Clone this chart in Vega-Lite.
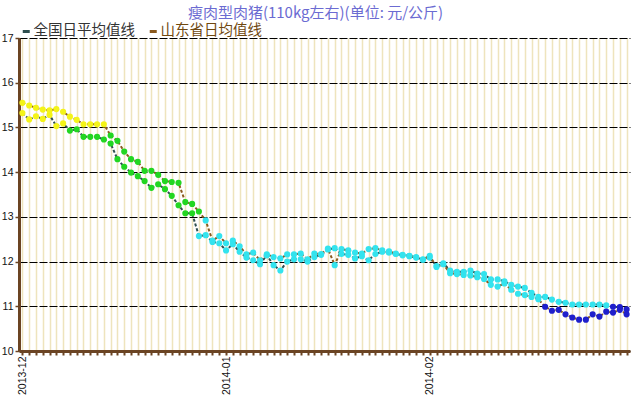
{
  "$schema": "https://vega.github.io/schema/vega-lite/v6.json",
  "width": 611,
  "height": 313,
  "autosize": "none",
  "padding": {"left": 19, "top": 38, "right": 3, "bottom": 48},
  "background": "white",
  "title": {"text": "瘦肉型肉猪(110kg左右)(单位: 元/公斤)", "font": "Noto Sans CJK SC", "fontSize": 15, "fontWeight": "normal", "color": "#6b6bd2", "anchor": "middle", "dx": -9, "offset": 3},
  "data": {"values": [
    {"d": "2013-12-02", "全国日平均值线": 15.32, "山东省日均值线": 15.55},
    {"d": "2013-12-03", "全国日平均值线": 15.18, "山东省日均值线": 15.49},
    {"d": "2013-12-04", "全国日平均值线": 15.25, "山东省日均值线": 15.44},
    {"d": "2013-12-05", "全国日平均值线": 15.19, "山东省日均值线": 15.40},
    {"d": "2013-12-06", "全国日平均值线": 15.28, "山东省日均值线": 15.38},
    {"d": "2013-12-07", "全国日平均值线": 15.03, "山东省日均值线": 15.41},
    {"d": "2013-12-08", "全国日平均值线": 15.09, "山东省日均值线": 15.35},
    {"d": "2013-12-09", "全国日平均值线": 14.93, "山东省日均值线": 15.24},
    {"d": "2013-12-10", "全国日平均值线": 14.96, "山东省日均值线": 15.17},
    {"d": "2013-12-11", "全国日平均值线": 14.79, "山东省日均值线": 15.07},
    {"d": "2013-12-12", "全国日平均值线": 14.79, "山东省日均值线": 15.07},
    {"d": "2013-12-13", "全国日平均值线": 14.79, "山东省日均值线": 15.07},
    {"d": "2013-12-14", "全国日平均值线": 14.73, "山东省日均值线": 15.07},
    {"d": "2013-12-15", "全国日平均值线": 14.64, "山东省日均值线": 14.82},
    {"d": "2013-12-16", "全国日平均值线": 14.29, "山东省日均值线": 14.70},
    {"d": "2013-12-17", "全国日平均值线": 14.12, "山东省日均值线": 14.46},
    {"d": "2013-12-18", "全国日平均值线": 13.99, "山东省日均值线": 14.29},
    {"d": "2013-12-19", "全国日平均值线": 13.91, "山东省日均值线": 14.23},
    {"d": "2013-12-20", "全国日平均值线": 13.80, "山东省日均值线": 14.03},
    {"d": "2013-12-21", "全国日平均值线": 13.65, "山东省日均值线": 14.03},
    {"d": "2013-12-22", "全国日平均值线": 13.73, "山东省日均值线": 13.94},
    {"d": "2013-12-23", "全国日平均值线": 13.62, "山东省日均值线": 13.80},
    {"d": "2013-12-24", "全国日平均值线": 13.47, "山东省日均值线": 13.78},
    {"d": "2013-12-25", "全国日平均值线": 13.26, "山东省日均值线": 13.76},
    {"d": "2013-12-26", "全国日平均值线": 13.08, "山东省日均值线": 13.33},
    {"d": "2013-12-27", "全国日平均值线": 13.08, "山东省日均值线": 13.29},
    {"d": "2013-12-28", "全国日平均值线": 12.57, "山东省日均值线": 13.12},
    {"d": "2013-12-29", "全国日平均值线": 12.59, "山东省日均值线": 12.92},
    {"d": "2013-12-30", "全国日平均值线": 12.44, "山东省日均值线": 12.47},
    {"d": "2013-12-31", "全国日平均值线": 12.41, "山东省日均值线": 12.57},
    {"d": "2014-01-01", "全国日平均值线": 12.25, "山东省日均值线": 12.41},
    {"d": "2014-01-02", "全国日平均值线": 12.39, "山东省日均值线": 12.47},
    {"d": "2014-01-03", "全国日平均值线": 12.22, "山东省日均值线": 12.34},
    {"d": "2014-01-04", "全国日平均值线": 12.09, "山东省日均值线": 12.16},
    {"d": "2014-01-05", "全国日平均值线": 12.03, "山东省日均值线": 12.20},
    {"d": "2014-01-06", "全国日平均值线": 11.94, "山东省日均值线": 12.03},
    {"d": "2014-01-07", "全国日平均值线": 12.14, "山东省日均值线": 12.16},
    {"d": "2014-01-08", "全国日平均值线": 11.92, "山东省日均值线": 12.10},
    {"d": "2014-01-09", "全国日平均值线": 11.80, "山东省日均值线": 12.07},
    {"d": "2014-01-10", "全国日平均值线": 12.00, "山东省日均值线": 12.16},
    {"d": "2014-01-11", "全国日平均值线": 12.05, "山东省日均值线": 12.16},
    {"d": "2014-01-12", "全国日平均值线": 12.05, "山东省日均值线": 12.18},
    {"d": "2014-01-13", "全国日平均值线": 12.00, "山东省日均值线": 12.05},
    {"d": "2014-01-14", "全国日平均值线": 12.10, "山东省日均值线": 12.18},
    {"d": "2014-01-15", "全国日平均值线": 12.15, "山东省日均值线": 12.17},
    {"d": "2014-01-16", "全国日平均值线": 12.27, "山东省日均值线": 12.29},
    {"d": "2014-01-17", "全国日平均值线": 12.30, "山东省日均值线": 11.92},
    {"d": "2014-01-18", "全国日平均值线": 12.17, "山东省日均值线": 12.28},
    {"d": "2014-01-19", "全国日平均值线": 12.15, "山东省日均值线": 12.25},
    {"d": "2014-01-20", "全国日平均值线": 12.07, "山东省日均值线": 12.20},
    {"d": "2014-01-21", "全国日平均值线": 12.12, "山东省日均值线": 12.18},
    {"d": "2014-01-22", "全国日平均值线": 12.03, "山东省日均值线": 12.28},
    {"d": "2014-01-23", "全国日平均值线": 12.17, "山东省日均值线": 12.30},
    {"d": "2014-01-24", "全国日平均值线": 12.22, "山东省日均值线": 12.25},
    {"d": "2014-01-25", "全国日平均值线": 12.20, "山东省日均值线": 12.23},
    {"d": "2014-01-26", "全国日平均值线": 12.17, "山东省日均值线": 12.18},
    {"d": "2014-01-27", "全国日平均值线": 12.14, "山东省日均值线": 12.15},
    {"d": "2014-01-28", "全国日平均值线": 12.12, "山东省日均值线": 12.13},
    {"d": "2014-01-29", "全国日平均值线": 12.09, "山东省日均值线": 12.10},
    {"d": "2014-01-30", "全国日平均值线": 12.04, "山东省日均值线": 12.05},
    {"d": "2014-02-01", "全国日平均值线": 12.09, "山东省日均值线": 12.13},
    {"d": "2014-02-02", "全国日平均值线": 11.90, "山东省日均值线": 11.88},
    {"d": "2014-02-03", "全国日平均值线": 11.96, "山东省日均值线": 11.94},
    {"d": "2014-02-04", "全国日平均值线": 11.80, "山东省日均值线": 11.74},
    {"d": "2014-02-05", "全国日平均值线": 11.77, "山东省日均值线": 11.72},
    {"d": "2014-02-06", "全国日平均值线": 11.77, "山东省日均值线": 11.70},
    {"d": "2014-02-07", "全国日平均值线": 11.80, "山东省日均值线": 11.69},
    {"d": "2014-02-08", "全国日平均值线": 11.73, "山东省日均值线": 11.65},
    {"d": "2014-02-09", "全国日平均值线": 11.72, "山东省日均值线": 11.61},
    {"d": "2014-02-10", "全国日平均值线": 11.60, "山东省日均值线": 11.48},
    {"d": "2014-02-11", "全国日平均值线": 11.60, "山东省日均值线": 11.44},
    {"d": "2014-02-12", "全国日平均值线": 11.56, "山东省日均值线": 11.51},
    {"d": "2014-02-13", "全国日平均值线": 11.48, "山东省日均值线": 11.37},
    {"d": "2014-02-14", "全国日平均值线": 11.44, "山东省日均值线": 11.28},
    {"d": "2014-02-15", "全国日平均值线": 11.41, "山东省日均值线": 11.25},
    {"d": "2014-02-16", "全国日平均值线": 11.30, "山东省日均值线": 11.21},
    {"d": "2014-02-17", "全国日平均值线": 11.21, "山东省日均值线": 11.16},
    {"d": "2014-02-18", "全国日平均值线": 11.21, "山东省日均值线": 10.99},
    {"d": "2014-02-19", "全国日平均值线": 11.15, "山东省日均值线": 10.90},
    {"d": "2014-02-20", "全国日平均值线": 11.10, "山东省日均值线": 10.92},
    {"d": "2014-02-21", "全国日平均值线": 11.08, "山东省日均值线": 10.82},
    {"d": "2014-02-22", "全国日平均值线": 11.04, "山东省日均值线": 10.75},
    {"d": "2014-02-23", "全国日平均值线": 11.04, "山东省日均值线": 10.70},
    {"d": "2014-02-24", "全国日平均值线": 11.04, "山东省日均值线": 10.70},
    {"d": "2014-02-25", "全国日平均值线": 11.04, "山东省日均值线": 10.82},
    {"d": "2014-02-26", "全国日平均值线": 11.04, "山东省日均值线": 10.77},
    {"d": "2014-02-27", "全国日平均值线": 11.02, "山东省日均值线": 10.88},
    {"d": "2014-02-28", "全国日平均值线": 10.99, "山东省日均值线": 10.86},
    {"d": "2014-03-01", "全国日平均值线": 10.98, "山东省日均值线": 10.92},
    {"d": "2014-03-02", "全国日平均值线": 10.93, "山东省日均值线": 10.82}
  ]},
  "transform": [{"fold": ["全国日平均值线", "山东省日均值线"], "as": ["series", "price"]}],
  "encoding": {
    "x": {
      "field": "d", "type": "ordinal",
      "scale": {"type": "point", "padding": 0.5},
      "axis": {
        "title": null, "grid": true, "gridColor": "#eee4bd", "gridWidth": 1.5,
        "domainColor": "#6b4423", "domainWidth": 3,
        "tickColor": "#6b4423", "tickSize": 4, "tickWidth": 2,
        "labelAngle": 270, "labelFont": "Liberation Sans", "labelFontSize": 10.5, "labelColor": "#111111",
        "labelOverlap": false, "labelPadding": 1,
        "labelExpr": "indexof(['2013-12-02','2014-01-01','2014-02-01'], datum.value) >= 0 ? slice(datum.value, 0, 7) : ''"
      }
    },
    "y": {
      "field": "price", "type": "quantitative",
      "scale": {"domain": [10, 17], "nice": false, "zero": false},
      "axis": {
        "title": null, "values": [10, 11, 12, 13, 14, 15, 16, 17],
        "grid": true, "gridColor": "#000000", "gridDash": [8, 2], "gridWidth": 1,
        "domainColor": "#6b4423", "domainWidth": 3,
        "tickColor": "#6b4423", "tickSize": 4, "tickWidth": 1.5,
        "labelFont": "Liberation Sans", "labelFontSize": 10.5, "labelColor": "#111111", "labelPadding": 2
      }
    }
  },
  "layer": [
    {
      "mark": {"type": "line", "strokeWidth": 2, "strokeDash": [3, 2]},
      "encoding": {
        "color": {
          "field": "series", "type": "nominal",
          "scale": {"domain": ["全国日平均值线", "山东省日均值线"], "range": ["#2f4f4f", "#8b5a1e"]},
          "legend": {
            "title": null, "orient": "none", "legendX": 0, "legendY": -14, "direction": "horizontal",
            "symbolType": "stroke", "symbolSize": 49, "symbolStrokeWidth": 3, "symbolDash": [1, 0],
            "labelFont": "Noto Sans CJK SC", "labelFontSize": 14.5, "labelOffset": 0, "columnPadding": 8,
            "padding": 0, "labelLimit": 300,
            "encode": {"labels": {"update": {"fill": {"signal": "datum.value == '山东省日均值线' ? '#70480f' : '#333333'"}}}}
          }
        }
      }
    },
    {
      "mark": {"type": "point", "filled": true, "shape": "circle", "size": 38, "opacity": 1, "strokeWidth": 0},
      "encoding": {
        "color": {
          "field": "price", "type": "quantitative",
          "scale": {"type": "threshold", "domain": [11, 13, 15], "range": ["#1f1fcc", "#33e3ee", "#22d622", "#f4f418"]},
          "legend": null
        },
        "detail": {"field": "series", "type": "nominal"}
      }
    }
  ],
  "resolve": {"scale": {"color": "independent"}},
  "config": {"view": {"stroke": null}}
}
